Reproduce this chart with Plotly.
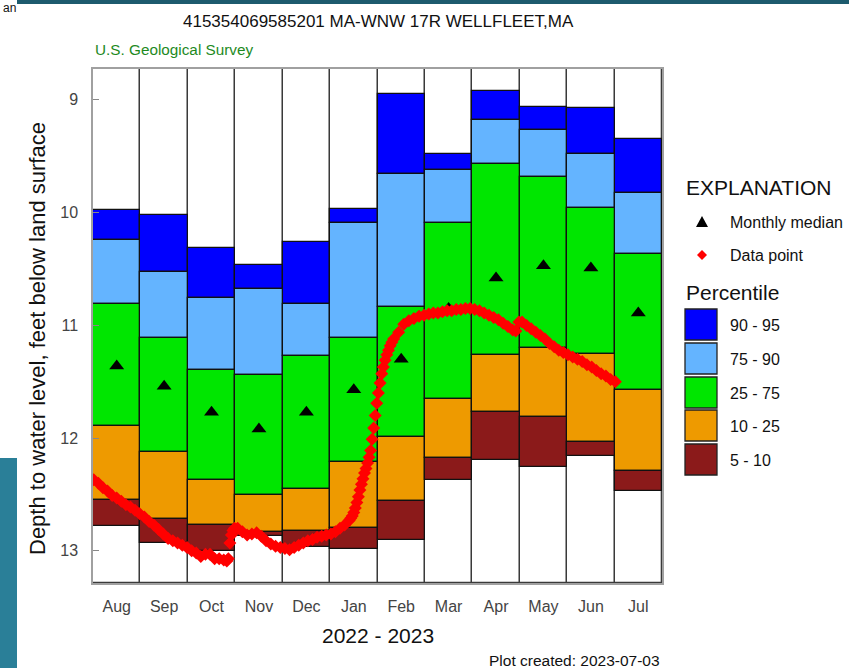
import calendar
import plotly.graph_objects as go

# ---- monthly percentile statistics (depth to water, ft below land surface) ----
months = ["Aug", "Sep", "Oct", "Nov", "Dec", "Jan", "Feb", "Mar", "Apr", "May", "Jun", "Jul"]
p95 = [9.98, 10.02, 10.31, 10.46, 10.26, 9.97, 8.95, 9.48, 8.92, 9.06, 9.07, 9.35]
p90 = [10.24, 10.53, 10.76, 10.68, 10.81, 10.09, 9.66, 9.62, 9.18, 9.27, 9.48, 9.83]
p75 = [10.81, 11.11, 11.40, 11.44, 11.27, 11.11, 10.84, 10.09, 9.57, 9.68, 9.96, 10.37]
p25 = [11.89, 12.12, 12.37, 12.50, 12.45, 12.21, 11.99, 11.65, 11.26, 11.20, 11.25, 11.57]
p10 = [12.55, 12.72, 12.77, 12.83, 12.82, 12.80, 12.56, 12.18, 11.77, 11.81, 12.03, 12.29]
p05 = [12.78, 12.93, 13.00, 12.87, 12.97, 12.98, 12.90, 12.37, 12.19, 12.26, 12.16, 12.47]
median = [11.36, 11.54, 11.77, 11.92, 11.77, 11.57, 11.30, 10.85, 10.58, 10.47, 10.49, 10.89]

# ---- observed water levels ----
obs_dates = [
    "2022-08-01", "2022-08-04", "2022-08-07", "2022-08-10", "2022-08-13", "2022-08-16",
    "2022-08-19", "2022-08-22", "2022-08-25", "2022-08-28", "2022-08-31",
    "2022-09-03", "2022-09-06", "2022-09-09", "2022-09-12", "2022-09-15", "2022-09-18",
    "2022-09-21", "2022-09-24", "2022-09-27", "2022-09-30",
    "2022-10-03", "2022-10-06", "2022-10-09", "2022-10-12", "2022-10-15", "2022-10-18",
    "2022-10-21", "2022-10-24", "2022-10-26", "2022-10-27", "2022-10-28", "2022-10-29",
    "2022-10-30", "2022-10-31",
    "2022-11-02", "2022-11-05", "2022-11-08", "2022-11-11", "2022-11-14", "2022-11-17",
    "2022-11-20", "2022-11-23", "2022-11-26", "2022-11-29",
    "2022-12-02", "2022-12-05", "2022-12-08", "2022-12-11", "2022-12-14", "2022-12-17",
    "2022-12-20", "2022-12-23", "2022-12-26", "2022-12-29",
    "2023-01-01", "2023-01-04", "2023-01-07", "2023-01-10", "2023-01-13", "2023-01-14",
    "2023-01-15", "2023-01-16", "2023-01-17", "2023-01-18", "2023-01-19", "2023-01-20",
    "2023-01-21", "2023-01-22", "2023-01-23", "2023-01-24", "2023-01-25", "2023-01-26",
    "2023-01-27", "2023-01-28", "2023-01-29", "2023-01-30", "2023-01-31",
    "2023-02-01", "2023-02-02", "2023-02-03", "2023-02-04", "2023-02-05", "2023-02-06",
    "2023-02-07", "2023-02-08", "2023-02-09", "2023-02-10", "2023-02-13", "2023-02-16",
    "2023-02-19", "2023-02-22", "2023-02-25", "2023-02-28",
    "2023-03-03", "2023-03-06", "2023-03-09", "2023-03-12", "2023-03-15", "2023-03-18",
    "2023-03-21", "2023-03-24", "2023-03-27", "2023-03-30",
    "2023-04-02", "2023-04-05", "2023-04-08", "2023-04-11", "2023-04-14", "2023-04-17",
    "2023-04-20", "2023-04-23", "2023-04-26", "2023-04-28", "2023-04-30",
    "2023-05-02", "2023-05-05", "2023-05-08", "2023-05-11", "2023-05-14", "2023-05-17",
    "2023-05-20", "2023-05-23", "2023-05-26", "2023-05-29",
    "2023-06-01", "2023-06-04", "2023-06-07", "2023-06-10", "2023-06-13", "2023-06-16",
    "2023-06-19", "2023-06-22", "2023-06-25", "2023-06-28", "2023-07-01",
]
obs_depth = [
    12.37, 12.40, 12.44, 12.47, 12.51, 12.53,
    12.56, 12.59, 12.61, 12.64, 12.67,
    12.70, 12.74, 12.77, 12.81, 12.85, 12.89,
    12.91, 12.93, 12.95, 12.97,
    13.00, 13.02, 13.05, 13.03, 13.03, 13.07,
    13.07, 13.08, 13.09, 13.07, 12.93, 12.86,
    12.82, 12.80,
    12.80, 12.83, 12.86, 12.85, 12.84, 12.87,
    12.91, 12.94, 12.96, 12.97,
    12.98, 12.99, 12.97, 12.95, 12.93, 12.91,
    12.90, 12.88, 12.87, 12.86,
    12.85, 12.83, 12.80, 12.77, 12.73, 12.71,
    12.69, 12.66, 12.62, 12.57, 12.52, 12.46,
    12.41, 12.36, 12.31, 12.27, 12.22, 12.17,
    12.11, 12.01, 11.91, 11.80, 11.69,
    11.60, 11.51, 11.43, 11.37, 11.31, 11.26,
    11.22, 11.18, 11.15, 11.12, 11.06, 10.99,
    10.96, 10.94, 10.92, 10.91,
    10.90, 10.89, 10.89, 10.88, 10.87, 10.87,
    10.86, 10.86, 10.85, 10.85,
    10.86, 10.87, 10.89, 10.91, 10.93, 10.95,
    10.98, 11.01, 11.04, 11.05, 10.97,
    10.97, 11.00, 11.03, 11.06, 11.09, 11.12,
    11.16, 11.19, 11.22, 11.24,
    11.26, 11.28, 11.30, 11.32, 11.35, 11.37,
    11.40, 11.43, 11.45, 11.48, 11.50,
]

percentile_labels = ["90 - 95", "75 - 90", "25 - 75", "10 - 25", "5 - 10"]
percentile_colors = ["#0000FF", "#64B4FF", "#00E600", "#EE9A00", "#8B1A1A"]

Y_TOP, Y_BOTTOM = 8.726, 13.285
W, H = 849, 668
ML, MR, MT, MB = 93, 187, 69, 85
PW, PH = W - ML - MR, H - MT - MB


def month_pos(datestr):
    """Horizontal position of a date: each month is one unit wide."""
    y, m, d = map(int, datestr.split("-"))
    idx = (y - 2022) * 12 + (m - 8)
    ndays = calendar.monthrange(y, m)[1]
    return idx + (d - 0.5) / ndays


def px(x):
    return (x - ML) / PW


def py(y):
    return (H - MB - y) / PH


centers = [i + 0.5 for i in range(len(months))]
obs_x = [month_pos(d) for d in obs_dates]

fig = go.Figure()

# full-height empty columns
fig.add_trace(go.Bar(
    x=centers, base=[Y_TOP] * 12, y=[Y_BOTTOM - Y_TOP] * 12, width=1,
    marker=dict(color="white", line=dict(color="#3a3a3a", width=1.3)),
    hoverinfo="skip", showlegend=False,
))

bands = [
    (p95, p90, percentile_colors[0]),
    (p90, p75, percentile_colors[1]),
    (p75, p25, percentile_colors[2]),
    (p25, p10, percentile_colors[3]),
    (p10, p05, percentile_colors[4]),
]
for lo, hi, col in bands:
    fig.add_trace(go.Bar(
        x=centers, base=lo, y=[h - l for l, h in zip(lo, hi)], width=1,
        marker=dict(color=col, line=dict(color="#111", width=1.3)),
        showlegend=False,
    ))

fig.add_trace(go.Scatter(
    x=centers, y=median, mode="markers",
    marker=dict(symbol="triangle-up", size=13, color="black"),
    showlegend=False, name="Monthly median",
))

fig.add_trace(go.Scatter(
    x=obs_x, y=obs_depth, mode="markers",
    marker=dict(symbol="diamond", size=10, color="#FF0000", line=dict(width=0)),
    showlegend=False, name="Data point",
))

FONT = "Liberation Sans, Arial, sans-serif"

annotations = []


def text(x, y, s, size, color="black", xanchor="left", **kw):
    annotations.append(dict(
        x=px(x), y=py(y), xref="paper", yref="paper", text=s, showarrow=False,
        xanchor=xanchor, yanchor="middle", font=dict(family=FONT, size=size, color=color), **kw,
    ))


text(378, 21, "415354069585201 MA-WNW 17R WELLFLEET,MA", 17, "#111", xanchor="center")
text(93, 50, "U.S. Geological Survey", 15.3, "#1E8A1E")
text(37, 339, "Depth to water level, feet below land surface", 22, "#111",
     xanchor="center", textangle=-90)
text(378, 635, "2022 - 2023", 21, "#111", xanchor="center")
text(662, 660, "Plot created: 2023-07-03", 15.5, "#111", xanchor="right")

# explanation block
text(684, 187, "EXPLANATION", 21, "#111")
text(728, 222, "Monthly median", 16, "#111")
text(728, 255, "Data point", 16, "#111")
text(684, 292, "Percentile", 21, "#111")

shapes = []
sw_top = [309, 343, 377, 410, 444]
for top, lab, col in zip(sw_top, percentile_labels, percentile_colors):
    shapes.append(dict(type="rect", xref="paper", yref="paper",
                       x0=px(685), x1=px(717), y0=py(top), y1=py(top + 31),
                       fillcolor=col, line=dict(color="#222", width=1.3)))
    text(728, top + 16, lab, 16, "#111")

# legend glyphs
tx, ty = 702, 222
shapes.append(dict(type="path", xref="paper", yref="paper",
                   path=f"M {px(tx-6)},{py(ty+5)} L {px(tx+6)},{py(ty+5)} L {px(tx)},{py(ty-6)} Z",
                   fillcolor="black", line=dict(width=0)))
dx, dy = 702, 255
shapes.append(dict(type="path", xref="paper", yref="paper",
                   path=f"M {px(dx-5)},{py(dy)} L {px(dx)},{py(dy-5)} L {px(dx+5)},{py(dy)} L {px(dx)},{py(dy+5)} Z",
                   fillcolor="#FF0000", line=dict(width=0)))

# page decoration strips
shapes.append(dict(type="rect", xref="paper", yref="paper",
                   x0=px(17), x1=px(849), y0=py(0), y1=py(4),
                   fillcolor="#1D5B6E", line=dict(width=0)))
shapes.append(dict(type="rect", xref="paper", yref="paper",
                   x0=px(0), x1=px(17), y0=py(458), y1=py(668),
                   fillcolor="#2A7F98", line=dict(width=0)))
text(1, 8, "an", 12, "#111")

fig.update_layout(
    width=W, height=H,
    margin=dict(l=ML, r=MR, t=MT, b=MB, autoexpand=False),
    paper_bgcolor="white", plot_bgcolor="white",
    barmode="overlay", bargap=0,
    showlegend=False,
    annotations=annotations, shapes=shapes,
    font=dict(family=FONT),
    xaxis=dict(range=[0, 12], tickvals=centers, ticktext=months,
               showgrid=False, zeroline=False, showline=True, mirror=True,
               linecolor="#a0a0a0", linewidth=1.5, ticks="",
               tickfont=dict(size=16, color="#444"), ticklabelstandoff=8,
               fixedrange=True),
    yaxis=dict(range=[Y_BOTTOM, Y_TOP], tickvals=[9, 10, 11, 12, 13],
               showgrid=False, zeroline=False, showline=True, mirror=True,
               linecolor="#a0a0a0", linewidth=1.5, ticks="inside", ticklen=6,
               tickcolor="#888", tickfont=dict(size=16, color="#444"),
               ticklabelstandoff=10, fixedrange=True),
)

fig.write_html("out.html")
